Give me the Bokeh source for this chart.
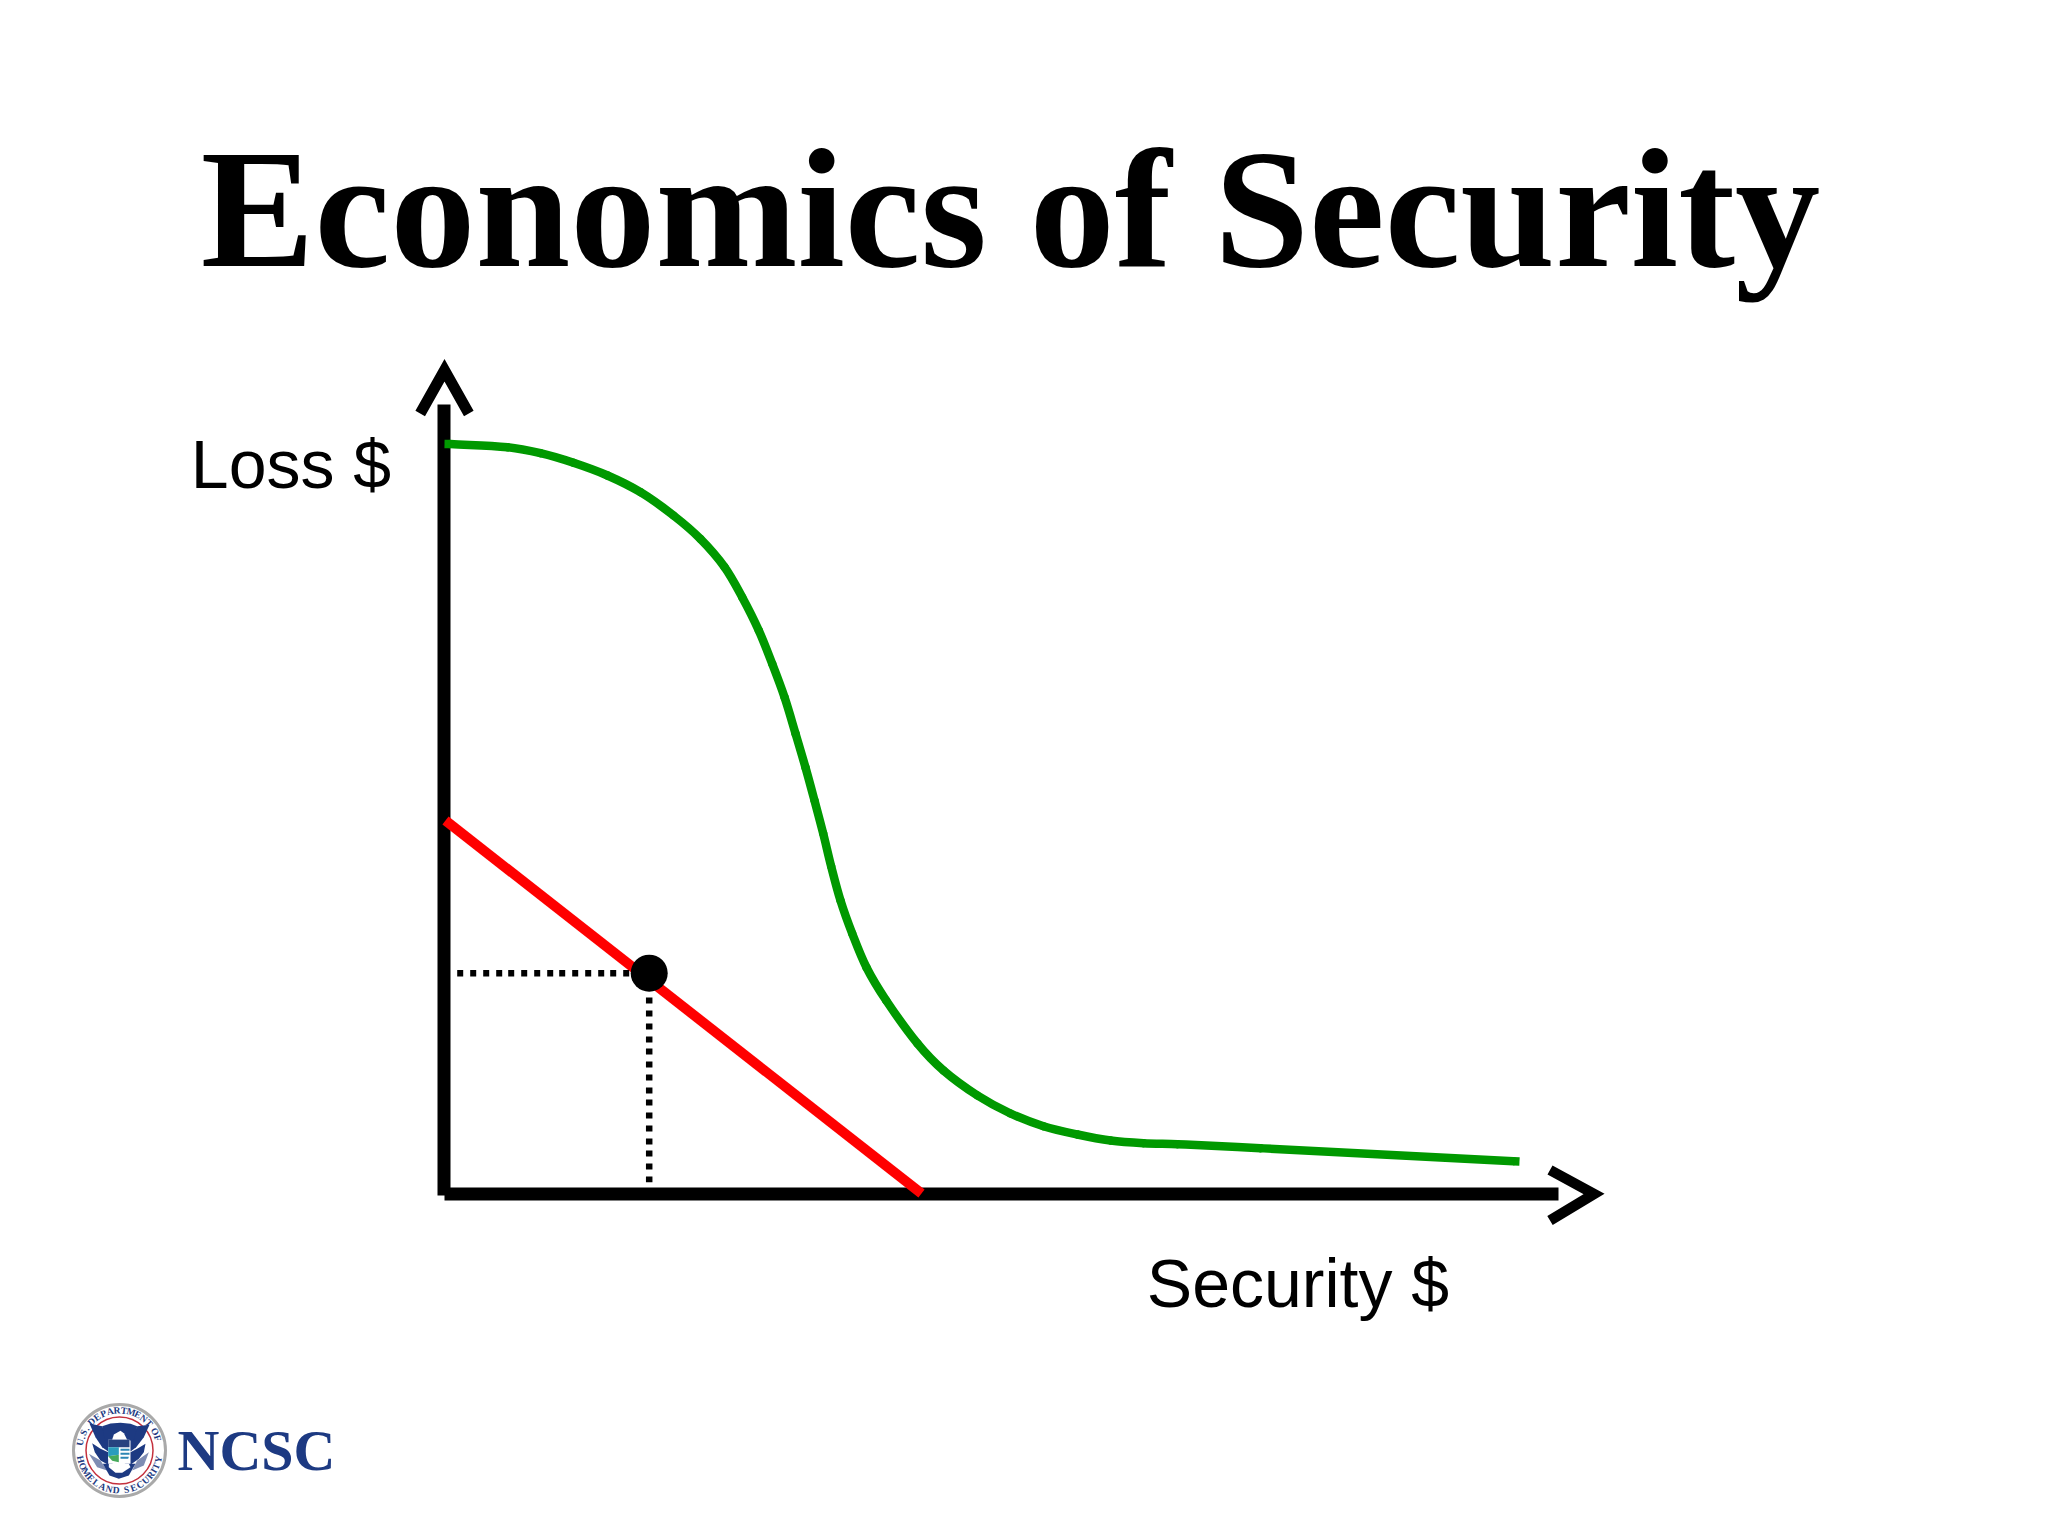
from bokeh.plotting import figure
from bokeh.models import Range1d
from bokeh.core.properties import value
from bokeh.embed import file_html
from bokeh.resources import INLINE
import math

# ---- chart values (security spend, loss) ----
title_text = "Economics of Security"
x_label = "Security $"
y_label = "Loss $"
logo_text = "NCSC"
seal_top = "U.S. DEPARTMENT OF"
seal_bottom = "HOMELAND SECURITY"

green_x = [6, 63, 96, 129, 163, 196, 229, 256, 280, 297.7, 314.3, 327.7, 340, 351, 361, 370, 378.7, 386.7,
           396, 407.7, 422, 441.7, 473, 499, 533, 566, 599, 633, 666, 699, 733, 816, 1069]
green_y = [749.9, 746.8, 740.8, 731.2, 718.5, 701.8, 678.5, 655, 627, 596.8, 563.5, 530.2, 496.8, 460.5,
           426.5, 393.5, 360.5, 327.5, 293.5, 260.5, 226.5, 193.5, 150.5, 123.5, 98.5, 80.5, 67.8, 59.5,
           53.5, 50.8, 49.8, 45.8, 32.8]
green_start_x = [0, 6]
green_start_y = [750, 749.9]
green_end_x = [1069, 1075]
green_end_y = [32.8, 32.5]
red_x = [1, 477]
red_y = [373.5, 0.5]
point_x = [204.7]
point_y = [220.8]
guide_h_x = [12.7, 185]
guide_h_y = [220.8, 220.8]
guide_v_x = [204.7, 204.7]
guide_v_y = [196.5, 11.8]
y_axis_x = [-0.5, -0.5]
y_axis_y = [-1.5, 789.5]
x_axis_x = [0, 1114]
x_axis_y = [0, 0]
y_head_x = [-24.3, 0, 24.3]
y_head_y = [780.5, 823.7, 780.5]
x_head_x = [1105.5, 1149.5, 1105.5]
x_head_y = [24, 0, -26.5]

NAVY = "#1d3a82"
ORIGIN_X, ORIGIN_Y = 444, 1193.5
TEXT_SHIFT = 0.365   # em: baseline correction for the text glyph

p = figure(width=2032, height=1520, output_backend="svg", toolbar_location=None,
           x_axis_type=None, y_axis_type=None, min_border=0, outline_line_color=None,
           background_fill_color="white", border_fill_color="white",
           x_range=Range1d(0 - ORIGIN_X, 2032 - ORIGIN_X),
           y_range=Range1d(ORIGIN_Y - 1520, ORIGIN_Y - 0))
p.grid.visible = False

# axes and arrowheads
p.line(y_axis_x, y_axis_y, line_color="black", line_width=13)
p.line(x_axis_x, x_axis_y, line_color="black", line_width=13)
p.line(y_head_x, y_head_y, line_color="black", line_width=11, line_join="miter")
p.line(x_head_x, x_head_y, line_color="black", line_width=10.5, line_join="miter")

def handles(xs, ys):
    x0, y0, x1, y1, cx0, cy0, cx1, cy1 = [], [], [], [], [], [], [], []
    n = len(xs)
    def tangent(i):
        a, b = max(i - 1, 0), min(i + 1, n - 1)
        dx, dy = xs[b] - xs[a], ys[b] - ys[a]
        d = math.hypot(dx, dy)
        return dx / d, dy / d
    for i in range(n - 1):
        L = math.hypot(xs[i + 1] - xs[i], ys[i + 1] - ys[i]) / 3
        t0, t1 = tangent(i), tangent(i + 1)
        x0.append(xs[i]); y0.append(ys[i]); x1.append(xs[i + 1]); y1.append(ys[i + 1])
        cx0.append(xs[i] + t0[0] * L); cy0.append(ys[i] + t0[1] * L)
        cx1.append(xs[i + 1] - t1[0] * L); cy1.append(ys[i + 1] - t1[1] * L)
    return dict(x0=x0, y0=y0, x1=x1, y1=y1, cx0=cx0, cy0=cy0, cx1=cx1, cy1=cy1)

p.bezier(line_color="#009900", line_width=8.5, line_cap="round", **handles(green_x, green_y))
p.line(green_start_x, green_start_y, line_color="#009900", line_width=8.5)
p.line(green_end_x, green_end_y, line_color="#009900", line_width=8.5)
p.line(red_x, red_y, line_color="#ff0000", line_width=10)
p.line(guide_h_x, guide_h_y, line_color="black", line_width=6.5, line_dash="6 7 6 7 6 7 6 6")
p.line(guide_v_x, guide_v_y, line_color="black", line_width=6.5, line_dash="6 7 6 7 6 7 6 6")
p.circle(point_x, point_y, radius=18.5, fill_color="black", line_color=None)

# texts
def put_text(x, y, s, font, size, **kw):
    p.text([x], [y + TEXT_SHIFT * size], text=[s], text_font=value(font), text_font_size=f"{size}px",
           text_align="center", text_baseline="alphabetic", **kw)

put_text(1010 - ORIGIN_X, 923, title_text, "Liberation Serif", 170.5, text_font_style="bold", text_color="black")
put_text(-153.5, 705.5, y_label, "Liberation Sans", 68, text_color="black")
put_text(853.5, -114, x_label, "Liberation Sans", 68, text_color="black")

# logo
def zx(v): return 65 + v / 3 - ORIGIN_X
def zy(v): return ORIGIN_Y - (1395 + v / 3)
def poly(pts, color):
    p.patch([zx(a) for a, _ in pts], [zy(b) for _, b in pts], fill_color=color, line_color=None)

sx, sy = 119 - ORIGIN_X, ORIGIN_Y - 1450
p.circle([sx], [sy], radius=46, fill_color="white", line_color="#a9a9a9", line_width=3)
p.circle([sx], [sy], radius=33.5, fill_color="white", line_color="#c4313d", line_width=1.5)

poly([(72,84),(110,92),(128,135),(128,168),(110,155),(90,125)], NAVY)
poly([(252,88),(215,92),(195,135),(195,168),(212,155),(235,125)], NAVY)
poly([(110,92),(135,84),(165,82),(195,85),(215,92),(205,135),(118,135)], NAVY)
poly([(80,143),(105,160),(128,170),(128,208),(105,195),(88,170)], NAVY)
poly([(240,145),(215,160),(195,170),(195,208),(220,190),(235,170)], NAVY)
poly([(70,175),(105,195),(125,225),(95,215)], "#7f8db3")
poly([(250,170),(215,195),(200,225),(235,210)], "#7f8db3")
poly([(112,205),(210,205),(190,240),(160,250),(132,240)], NAVY)
poly([(130,205),(190,205),(195,215),(170,232),(150,232),(130,215)], "white")
poly([(145,117),(165,106),(175,113),(185,133),(140,133)], "white")
poly([(128,133),(192,133),(192,190),(178,205),(160,212),(142,205),(128,190)], "white")
poly([(128,133),(192,133),(192,155),(128,155)], "#27427f")
poly([(128,155),(160,155),(160,178),(128,182)], "#2b9cbc")
poly([(128,182),(160,178),(160,200),(140,196)], "#46a95b")
poly([(165,160),(192,160),(192,166),(165,166)], "#2b86b4")
poly([(165,172),(192,172),(192,178),(165,178)], "#2b86b4")
poly([(165,184),(190,184),(188,190),(165,190)], "#2b86b4")

# seal lettering, placed along the ring one character at a time
def arc_text(s, start, end, flip):
    wid = [0.45 if c in " .I" else 1.0 for c in s]
    total = sum(wid) - (wid[0] + wid[-1]) / 2
    pos = 0
    for i, ch in enumerate(s):
        a = math.radians(start + (end - start) * pos / total)
        if i < len(s) - 1:
            pos += (wid[i] + wid[i + 1]) / 2
        rot = a - math.pi / 2 if not flip else a + math.pi / 2
        p.text([sx + 40 * math.cos(a)], [sy + 40 * math.sin(a)], text=[ch], angle=[rot],
               text_font=value("Liberation Serif"), text_font_size="9.5px", text_font_style="bold",
               text_align="center", text_baseline="middle", text_color=NAVY)

arc_text(seal_top, 168, 18, False)
arc_text(seal_bottom, 193, 347, True)

put_text(256 - ORIGIN_X, ORIGIN_Y - 1471, logo_text, "Liberation Serif", 58, text_font_style="bold", text_color=NAVY)

open("out.html", "w").write(file_html(p, INLINE))
